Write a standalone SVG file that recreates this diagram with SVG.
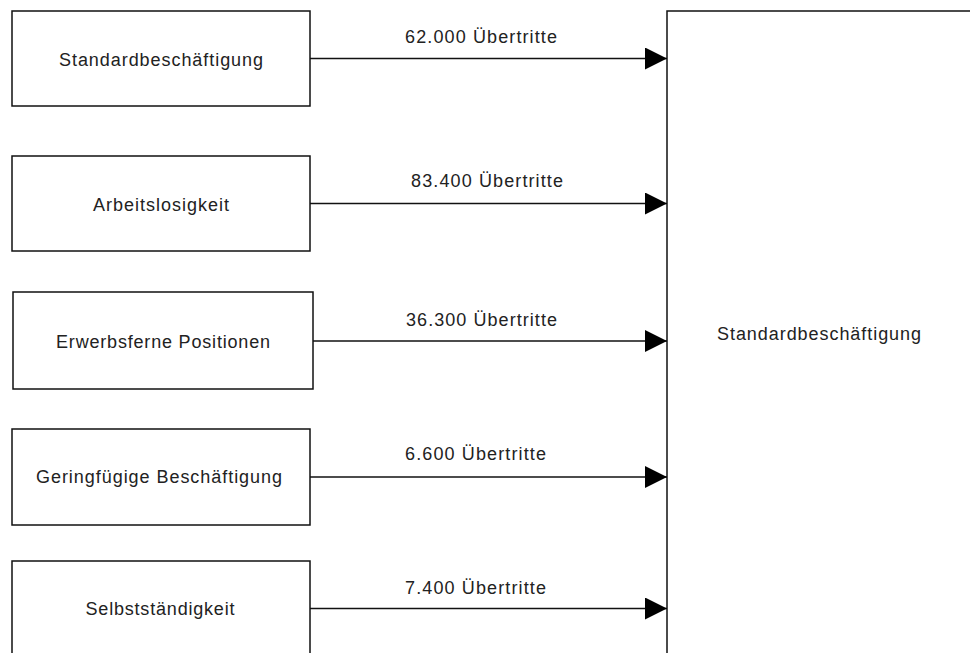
<svg xmlns="http://www.w3.org/2000/svg" width="970" height="653" viewBox="0 0 970 653">
<defs>
<style>
.box{fill:#fff;stroke:#111;stroke-width:1.5}
.t{font-family:"Liberation Sans",Arial,sans-serif;font-size:18px;fill:#222}
.c{stroke:#111;stroke-width:1.5;fill:none}
</style>
<marker id="ah" markerUnits="userSpaceOnUse" markerWidth="22" markerHeight="22" viewBox="0 0 20 20" refX="20" refY="10" orient="auto">
<path d="M0,0 L20,10 L0,20 Z" fill="#000"/>
</marker>
</defs>
<rect width="970" height="653" fill="#fff"/>
<g id="target">
<rect class="box" x="667" y="11" width="400" height="700"/>
<text class="t" x="819" y="340" text-anchor="middle" textLength="204" lengthAdjust="spacing">Standardbeschäftigung</text>
</g>
<g id="src1">
<rect class="box" x="12" y="11" width="298" height="95"/>
<text class="t" x="161" y="66" text-anchor="middle" textLength="204" lengthAdjust="spacing">Standardbeschäftigung</text>
</g>
<g id="src2">
<rect class="box" x="12" y="156" width="298" height="95"/>
<text class="t" x="161" y="211" text-anchor="middle" textLength="136" lengthAdjust="spacing">Arbeitslosigkeit</text>
</g>
<g id="src3">
<rect class="box" x="13" y="292" width="300" height="97"/>
<text class="t" x="163" y="348" text-anchor="middle" textLength="214" lengthAdjust="spacing">Erwerbsferne Positionen</text>
</g>
<g id="src4">
<rect class="box" x="12" y="429" width="298" height="96"/>
<text class="t" x="159" y="483" text-anchor="middle" textLength="246" lengthAdjust="spacing">Geringfügige Beschäftigung</text>
</g>
<g id="src5">
<rect class="box" x="12" y="561" width="298" height="150"/>
<text class="t" x="160" y="615" text-anchor="middle" textLength="149" lengthAdjust="spacing">Selbstständigkeit</text>
</g>
<g id="connectors">
<line class="c" x1="310" y1="58.5" x2="667" y2="58.5" marker-end="url(#ah)"/>
<line class="c" x1="310" y1="203.5" x2="667" y2="203.5" marker-end="url(#ah)"/>
<line class="c" x1="313" y1="341" x2="667" y2="341" marker-end="url(#ah)"/>
<line class="c" x1="310" y1="477" x2="667" y2="477" marker-end="url(#ah)"/>
<line class="c" x1="310" y1="608.5" x2="667" y2="608.5" marker-end="url(#ah)"/>
<text class="t" x="405" y="43" textLength="152" lengthAdjust="spacing">62.000 Übertritte</text>
<text class="t" x="411" y="187" textLength="152" lengthAdjust="spacing">83.400 Übertritte</text>
<text class="t" x="406" y="326" textLength="151" lengthAdjust="spacing">36.300 Übertritte</text>
<text class="t" x="405" y="460" textLength="141" lengthAdjust="spacing">6.600 Übertritte</text>
<text class="t" x="405" y="594" textLength="141" lengthAdjust="spacing">7.400 Übertritte</text>
</g>
</svg>
